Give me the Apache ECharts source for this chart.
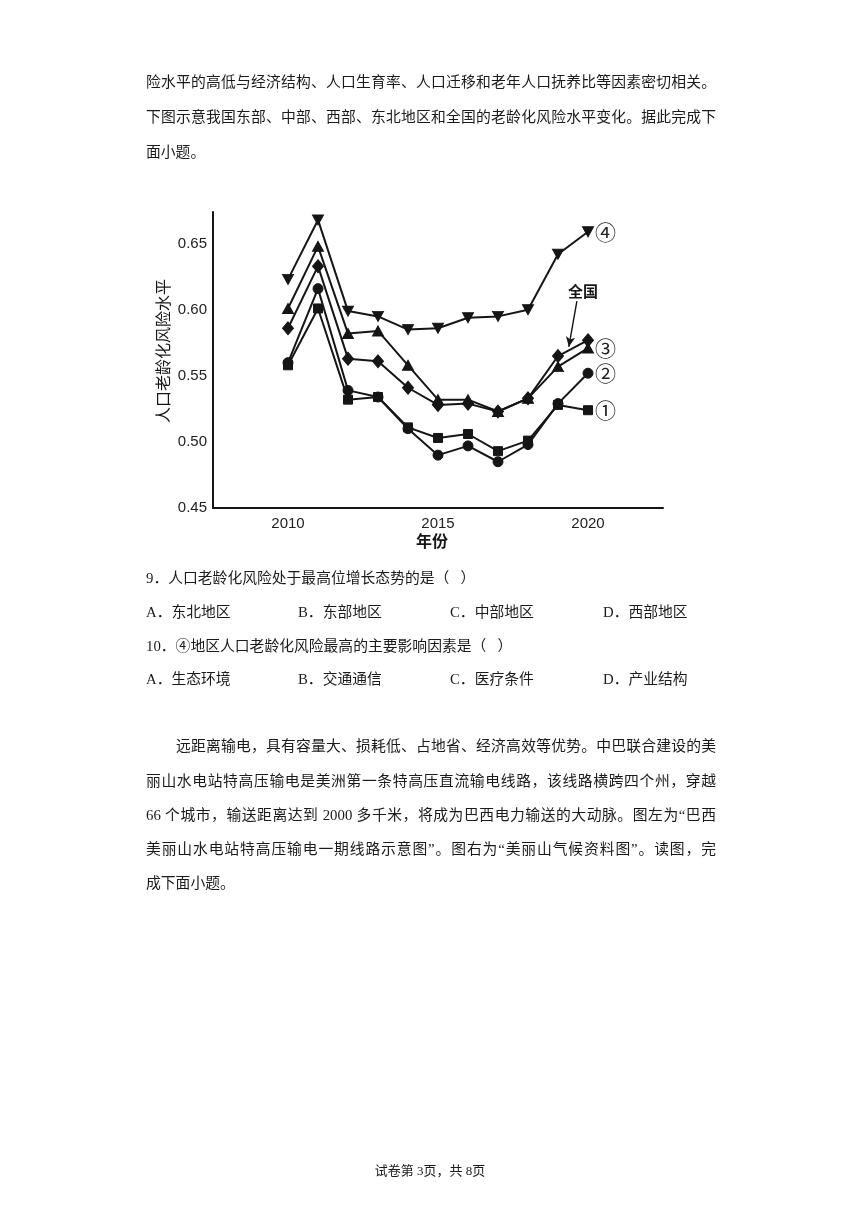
<!DOCTYPE html>
<html>
<head>
<meta charset="utf-8">
<script src="https://cdn.jsdelivr.net/npm/echarts@6/dist/echarts.min.js"></script>
<style>
  body { margin: 0; background: #fff; }
  #page { position: relative; width: 860px; height: 1216px; overflow: hidden;
          font-family: "Liberation Serif", "Noto Sans CJK SC", serif; color: #1a1a1a; }
  #chart { position: absolute; left: 0; top: 0; width: 860px; height: 1216px; }
  .ln { position: absolute; left: 146px; width: 570px; font-size: 14.8px; line-height: 20px;
        text-align: justify; text-align-last: justify; z-index: 2; }
  .plain { text-align-last: auto; }
  .opt { position: absolute; font-size: 14.8px; line-height: 20px; z-index: 2; white-space: nowrap; }
  .foot { position: absolute; left: 0; width: 860px; text-align: center; font-size: 13px; top: 1160px; }
</style>
</head>
<body>
<div id="page">
  <div id="chart"></div>

  <div class="ln" style="top:72px">险水平的高低与经济结构、人口生育率、人口迁移和老年人口抚养比等因素密切相关。</div>
  <div class="ln" style="top:107px">下图示意我国东部、中部、西部、东北地区和全国的老龄化风险水平变化。据此完成下</div>
  <div class="ln plain" style="top:142px">面小题。</div>

  <div class="ln plain" style="top:568px">9．人口老龄化风险处于最高位增长态势的是（&nbsp;&nbsp;&nbsp;）</div>
  <div class="opt" style="left:146px;top:602px">A．东北地区</div>
  <div class="opt" style="left:298px;top:602px">B．东部地区</div>
  <div class="opt" style="left:450px;top:602px">C．中部地区</div>
  <div class="opt" style="left:603px;top:602px">D．西部地区</div>
  <div class="ln plain" style="top:636px">10．④地区人口老龄化风险最高的主要影响因素是（&nbsp;&nbsp;&nbsp;）</div>
  <div class="opt" style="left:146px;top:669px">A．生态环境</div>
  <div class="opt" style="left:298px;top:669px">B．交通通信</div>
  <div class="opt" style="left:450px;top:669px">C．医疗条件</div>
  <div class="opt" style="left:603px;top:669px">D．产业结构</div>

  <div class="ln" style="top:736px;left:176px;width:540px">远距离输电，具有容量大、损耗低、占地省、经济高效等优势。中巴联合建设的美</div>
  <div class="ln" style="top:771px">丽山水电站特高压输电是美洲第一条特高压直流输电线路，该线路横跨四个州，穿越</div>
  <div class="ln" style="top:805px">66 个城市，输送距离达到 2000 多千米，将成为巴西电力输送的大动脉。图左为“巴西</div>
  <div class="ln" style="top:839px">美丽山水电站特高压输电一期线路示意图”。图右为“美丽山气候资料图”。读图，完</div>
  <div class="ln plain" style="top:873px">成下面小题。</div>

  <div class="foot">试卷第 3页，共 8页</div>
</div>

<script type="text/javascript">
// 年份与各地区老龄化风险水平
var years = [2010, 2011, 2012, 2013, 2014, 2015, 2016, 2017, 2018, 2019, 2020];
var region4 = [0.623, 0.668, 0.599, 0.595, 0.585, 0.586, 0.594, 0.595, 0.600, 0.642, 0.659];
var region3 = [0.601, 0.648, 0.582, 0.584, 0.558, 0.532, 0.532, 0.523, 0.533, 0.557, 0.571];
var national = [0.586, 0.633, 0.563, 0.561, 0.541, 0.528, 0.529, 0.523, 0.533, 0.565, 0.577];
var region2 = [0.560, 0.616, 0.539, 0.534, 0.510, 0.490, 0.497, 0.485, 0.498, 0.529, 0.552];
var region1 = [0.558, 0.601, 0.532, 0.534, 0.511, 0.503, 0.506, 0.493, 0.501, 0.528, 0.524];
var seriesNames = ['④', '③', '全国', '②', '①'];

function pairs(vals) {
    return years.map(function (y, i) { return [y, vals[i]]; });
}

var ink = '#151515';
var sansFont = 'Liberation Sans';
var cjkFont = 'Noto Sans CJK SC';

function makeLine(name, vals, symbol, size, rotate, endText) {
    var s = {
        name: name,
        type: 'line',
        data: pairs(vals),
        symbol: symbol,
        symbolSize: size,
        symbolRotate: rotate,
        showAllSymbol: true,
        lineStyle: { color: ink, width: 2 },
        itemStyle: { color: ink, borderColor: ink },
        animation: false
    };
    if (endText) {
        s.endLabel = {
            show: true,
            formatter: endText,
            distance: 7,
            fontSize: 21,
            color: '#222',
            fontFamily: cjkFont
        };
    }
    return s;
}

var natSeries = makeLine(seriesNames[2], national, 'diamond', [11, 13], 0, null);
natSeries.markLine = {
    silent: true,
    symbol: ['none', 'arrow'],
    symbolSize: [7, 10],
    label: { show: false },
    lineStyle: { color: ink, width: 1.4, type: 'solid' },
    data: [[{ coord: [2019.63, 0.6065] }, { coord: [2019.36, 0.572] }]]
};

var myChart = echarts.init(document.getElementById('chart'));
var option = {
    animation: false,
    grid: { left: 213, top: 212, width: 450, height: 296 },
    xAxis: {
        type: 'value',
        min: 2007.5,
        max: 2022.5,
        interval: 2.5,
        axisLine: { lineStyle: { color: ink, width: 2 } },
        axisTick: { show: false },
        splitLine: { show: false },
        axisLabel: {
            formatter: function (v) { return v % 5 === 0 ? String(v) : ''; },
            fontSize: 15, color: '#222', fontFamily: sansFont, margin: 8,
            showMinLabel: true, showMaxLabel: true
        }
    },
    yAxis: {
        type: 'value',
        min: 0.45,
        max: 0.674,
        interval: 0.05,
        axisLine: { show: true, lineStyle: { color: ink, width: 2 } },
        axisTick: { show: false },
        splitLine: { show: false },
        axisLabel: {
            formatter: function (v) { return v.toFixed(2); },
            fontSize: 15, color: '#222', fontFamily: sansFont, margin: 6,
            showMaxLabel: false
        }
    },
    graphic: [
        { type: 'text', x: 163, y: 351, rotation: Math.PI / 2,
          style: { text: '人口老龄化风险水平', fontSize: 16, fontFamily: cjkFont, fill: '#151515',
                   align: 'center', verticalAlign: 'middle' } },
        { type: 'text', x: 432, y: 541,
          style: { text: '年份', fontSize: 16, fontFamily: cjkFont, fontWeight: 'bold', fill: '#151515',
                   align: 'center', verticalAlign: 'middle' } },
        { type: 'text', x: 583, y: 291,
          style: { text: '全国', fontSize: 15, fontFamily: cjkFont, fontWeight: 'bold', fill: '#151515',
                   align: 'center', verticalAlign: 'middle' } }
    ],
    series: [
        makeLine(seriesNames[0], region4, 'triangle', [11, 10], 180, '④'),
        makeLine(seriesNames[1], region3, 'triangle', [11, 10], 0, '③'),
        natSeries,
        makeLine(seriesNames[3], region2, 'circle', 10, 0, '②'),
        makeLine(seriesNames[4], region1, 'rect', 9, 0, '①')
    ]
};
myChart.setOption(option, true);
</script>
</body>
</html>
